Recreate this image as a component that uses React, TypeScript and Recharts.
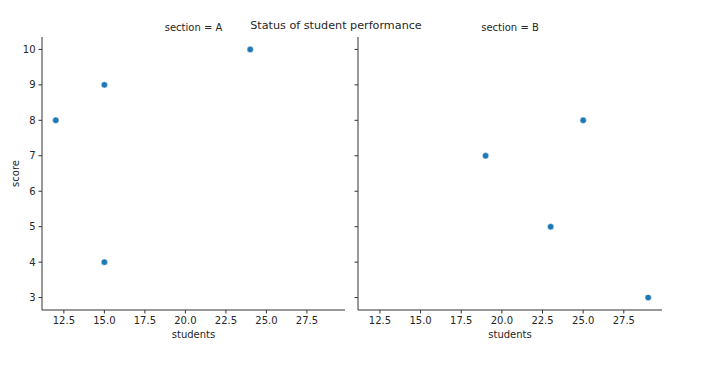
import { ScatterChart, Scatter, XAxis, YAxis } from "recharts";

const title = "Status of student performance";
const sectionA = [
  { students: 12, score: 8 },
  { students: 15, score: 9 },
  { students: 15, score: 4 },
  { students: 24, score: 10 },
];
const sectionB = [
  { students: 19, score: 7 },
  { students: 23, score: 5 },
  { students: 25, score: 8 },
  { students: 29, score: 3 },
];
const xTicks = [12.5, 15, 17.5, 20, 22.5, 25, 27.5];
const yTicks = [3, 4, 5, 6, 7, 8, 9, 10];
const xDomain = [11.15, 29.85];
const yDomain = [2.65, 10.35];

const FONT = "'DejaVu Sans', sans-serif";
const AXIS = "#333333";
const TEXT = "#262626";
const DOT = "#1f77b4";

const dot = (p: any) => (
  <circle cx={p.cx} cy={p.cy} r={3.2} fill={DOT} stroke="#ffffff" strokeWidth={0.5} />
);

function Panel({ data, showY }: { data: { students: number; score: number }[]; showY: boolean }) {
  return (
    <ScatterChart
      width={showY ? 360 : 340}
      height={367}
      margin={{ top: 37, right: showY ? 15 : 28, bottom: 27, left: 0 }}
    >
      <XAxis
        type="number"
        dataKey="students"
        domain={xDomain}
        ticks={xTicks}
        allowDataOverflow
        tickFormatter={(v: number) => v.toFixed(1)}
        tick={{ fontSize: 10, fill: TEXT, fontFamily: FONT }}
        stroke={AXIS}
        tickSize={3.5}
        tickMargin={3}
        height={30}
      />
      <YAxis
        type="number"
        dataKey="score"
        domain={yDomain}
        ticks={yTicks}
        allowDataOverflow
        tickFormatter={(v: number) => (showY ? String(v) : "")}
        tick={{ fontSize: 10, fill: TEXT, fontFamily: FONT }}
        stroke={AXIS}
        tickSize={3.5}
        tickMargin={3}
        width={showY ? 42 : 8}
      />
      <Scatter data={data} fill={DOT} shape={dot} isAnimationActive={false} />
    </ScatterChart>
  );
}

export default function App() {
  return (
    <div style={{ position: "absolute", left: 0, top: 0, width: 720, height: 367, background: "#fff" }}>
      <div style={{ position: "absolute", left: 0, top: 0 }}>
        <Panel data={sectionA} showY />
      </div>
      <div style={{ position: "absolute", left: 350, top: 0 }}>
        <Panel data={sectionB} showY={false} />
      </div>
      <svg
        width={720}
        height={367}
        style={{ position: "absolute", left: 0, top: 0, pointerEvents: "none" }}
        fontFamily={FONT}
        fill={TEXT}
      >
        <text x={336} y={29} fontSize={11.2} textAnchor="middle">{title}</text>
        <text x={193.5} y={31} fontSize={10} textAnchor="middle">section = A</text>
        <text x={510} y={31} fontSize={10} textAnchor="middle">section = B</text>
        <text x={193.5} y={338} fontSize={10} textAnchor="middle">students</text>
        <text x={510} y={338} fontSize={10} textAnchor="middle">students</text>
        <text x={19} y={173.5} fontSize={10} textAnchor="middle" transform="rotate(-90 19 173.5)">score</text>
      </svg>
    </div>
  );
}
